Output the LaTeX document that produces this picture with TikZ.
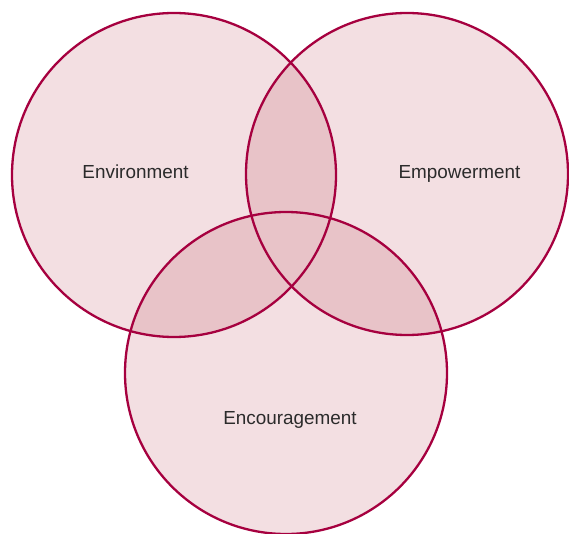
\documentclass[tikz,border=0pt]{standalone}
\usepackage{fontspec}
\setmainfont{Liberation Sans}
\usepackage{tikz}
\definecolor{rim}{HTML}{A6003F}
\definecolor{paleset}{HTML}{F3DFE2}
\definecolor{overlap}{HTML}{E8C3C8}
\definecolor{labeltext}{HTML}{2B2B2B}
\tikzset{
  setlabel/.style={anchor=base,inner sep=0pt,text=labeltext,font=\fontsize{18.9}{22}\selectfont},
}
\newcommand{\envcirc}{(174,175) circle (162)}
\newcommand{\empcirc}{(407,174) circle (161)}
\newcommand{\enccirc}{(286,373) circle (161)}

\begin{document}
\begin{tikzpicture}[x=1pt,y=-1pt]
    \useasboundingbox (0,0) rectangle (569,534);
    \clip (0,0) rectangle (569,534);
    % pale sets
    \fill[paleset] \envcirc;
    \fill[paleset] \empcirc;
    \fill[paleset] \enccirc;
    % overlaps
    \begin{scope} \clip \envcirc; \fill[overlap] \empcirc; \fill[overlap] \enccirc; \end{scope}
    \begin{scope} \clip \empcirc; \fill[overlap] \enccirc; \end{scope}
    %
    \draw[rim,line width=2.3pt] \envcirc;
    \draw[rim,line width=2.3pt] \empcirc;
    \draw[rim,line width=2.3pt] \enccirc;
    %
    \node[setlabel] (env) at (135.5,178.3) {Environment};
    \node[setlabel] (emp) at (459.5,178.3) {Empowerment};
    \node[setlabel] (enc) at (290,424.3) {Encouragement};
  \end{tikzpicture}
\end{document}
